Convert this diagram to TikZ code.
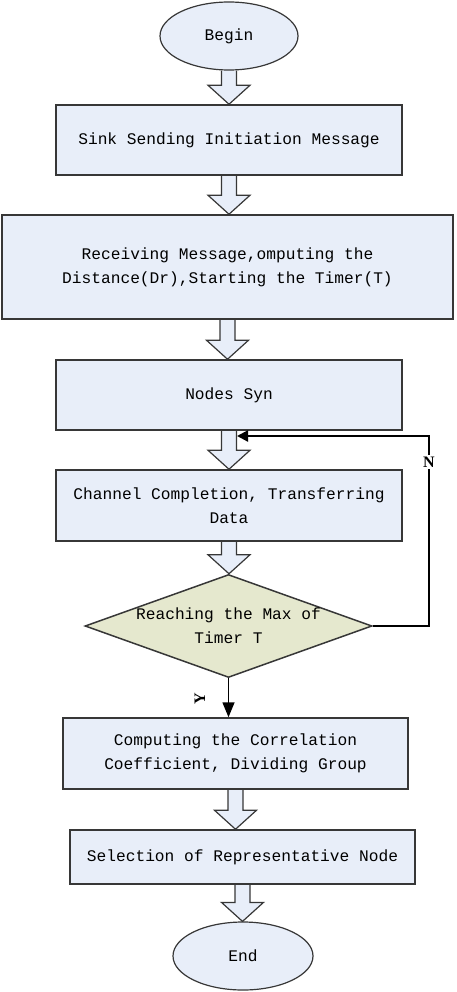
\documentclass[tikz,border=0pt]{standalone}
\usepackage{fontspec}
\setmainfont{Liberation Mono}
\newfontfamily\lblfont{Liberation Serif}
\usetikzlibrary{shapes.geometric,arrows.meta,backgrounds,calc}
\definecolor{boxfill}{RGB}{232,238,249}
\definecolor{diafill}{RGB}{229,232,206}
\definecolor{edgecol}{RGB}{55,55,55}
\tikzset{
  txt/.style={font=\fontsize{16.2}{24}\selectfont},
  stepbox/.style={rectangle,draw=edgecol,fill=boxfill,line width=1.5pt,align=center,inner sep=0pt,txt},
  termbox/.style={ellipse,draw=edgecol,fill=boxfill,line width=1.2pt,inner sep=0pt,txt},
  decbox/.style={diamond,draw=edgecol,fill=diafill,line width=1.5pt,aspect=2.79,inner sep=0pt},
  hollow/.style={draw=edgecol,fill=boxfill,line width=1.2pt,line join=miter},
  flow/.style={draw=black,line width=2.2pt},
  lbl/.style={font=\lblfont\bfseries\fontsize{16}{16}\selectfont,inner sep=2pt}
}
\newcommand\harrow[2]{%
  \draw[hollow] let \p1=(#1.south), \p2=(#2.north) in
  (\x1-7.5pt,\y1) -- (\x1-7.5pt,\y2+19pt) -- (\x1-21pt,\y2+19pt) -- (\x1,\y2)
  -- (\x1+21pt,\y2+19pt) -- (\x1+7.5pt,\y2+19pt) -- (\x1+7.5pt,\y1);}
\begin{document}
\begin{tikzpicture}[x=1pt,y=-1pt]
\useasboundingbox (0,0) rectangle (456,992);
\node[termbox,minimum width=138pt,minimum height=68pt] (begin) at (229,36) {Begin};
\node[stepbox,minimum width=346pt,minimum height=70pt] (b1) at (229,140) {Sink Sending Initiation Message};
\node[stepbox,minimum width=451pt,minimum height=104pt] (b2) at (227.5,267) {Receiving Message,omputing the\\Distance(Dr),Starting the Timer(T)};
\node[stepbox,minimum width=346pt,minimum height=70pt] (b3) at (229,395) {Nodes Syn};
\node[stepbox,minimum width=346pt,minimum height=71pt] (b4) at (229,505.5) {Channel Completion, Transferring\\Data};
\node[decbox,minimum width=287pt,minimum height=103pt] (dia) at (228.5,626) {};
\node[txt,align=center] (diatext) at (dia.center) {Reaching the Max of\\Timer T};
\node[stepbox,minimum width=345pt,minimum height=71pt] (b5) at (235.5,753.5) {Computing the Correlation\\Coefficient, Dividing Group};
\node[stepbox,minimum width=345pt,minimum height=54pt] (b6) at (242.5,857) {Selection of Representative Node};
\node[termbox,minimum width=140pt,minimum height=68pt] (end) at (243,956) {End};
\begin{scope}[on background layer]
\harrow{begin}{b1}
\harrow{b1}{b2}
\harrow{b2}{b3}
\harrow{b3}{b4}
\harrow{b4}{dia}
\harrow{b5}{b6}
\harrow{b6}{end}
\end{scope}
\coordinate (fbtop) at (429,436);
\coordinate (fbend) at (237,436);
\draw[flow,-{Triangle[length=11pt,width=11pt]}] (dia.east) -| (fbtop) -- (fbend);
\node[lbl,fill=white] (nlab) at (429,462) {N};
\draw[line width=1.5pt,-{Triangle[length=15pt,width=12pt]}] (dia.south) -- (dia.south |- b5.north);
\node[lbl,rotate=90] (ylab) at (200,699) {Y};
\end{tikzpicture}
\end{document}
